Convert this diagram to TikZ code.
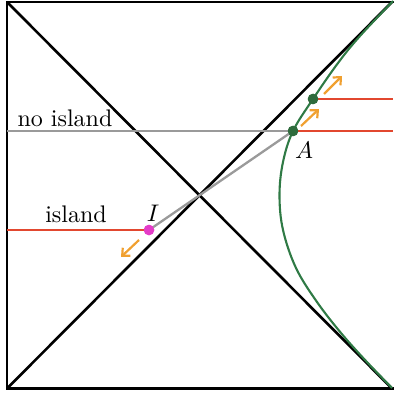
\documentclass[tikz,border=0pt]{standalone}
\usetikzlibrary{arrows.meta}
\definecolor{dgreen}{HTML}{2E6B3C}
\definecolor{cgreen}{HTML}{2F7A45}
\definecolor{ored}{HTML}{E2472F}
\definecolor{oorange}{HTML}{F0A030}
\definecolor{mag}{HTML}{E43CC8}
\definecolor{lgray}{HTML}{9A9A9A}
\tikzset{
  frame/.style={line width=2.6pt, black},
  grayline/.style={line width=2.3pt, lgray},
  redline/.style={line width=2.4pt, ored},
  curveline/.style={line width=2.1pt, cgreen},
  gdot/.style={circle, fill=dgreen, inner sep=0pt, minimum size=10.5pt},
  mdot/.style={circle, fill=mag, inner sep=0pt, minimum size=10.5pt},
  oarrow/.style={line width=2.2pt, oorange, -{Straight Barb[length=6pt,width=11pt]}},
  lbl/.style={scale=2.4, inner sep=0pt}
}
\begin{document}
\begin{tikzpicture}[x=1pt,y=-1pt]
\useasboundingbox (0,0) rectangle (393,395);
% frame corners
\coordinate (TL) at (7,2);
\coordinate (TR) at (394,2);
\coordinate (BL) at (7,388.5);
\coordinate (BR) at (394,388.5);
\coordinate (TRc) at (392,2);
\coordinate (BRc) at (392,388.5);
\draw[frame] (TR) -- (TL) -- (BL) -- (BR);
\draw[frame] (TL) -- (BRc);
\draw[frame] (BL) -- (TRc);
% green curve
\draw[curveline] plot[smooth, tension=0.6] coordinates {(393,1) (360,36) (338,63) (313,99) (293,131) (283,162) (279.5,195) (283,230) (296,268) (317,302) (341,333) (366,361) (392,388)};
% points
\node[gdot] (A) at (293,131) {};
\node[gdot] (B) at (313,99) {};
\node[mdot] (I) at (149,230) {};
\coordinate (L1) at (7,131);
\coordinate (L2) at (7,230);
\coordinate (R1) at (393,131);
\coordinate (R2) at (393,99);
% lines
\draw[grayline] (L1) -- (A.center);
\draw[grayline] (I.center) -- (A.center);
\draw[redline] (L2) -- (I.center);
\draw[redline] (A.center) -- (R1);
\draw[redline] (B.center) -- (R2);
\node[gdot] at (A) {};
\node[gdot] at (B) {};
\node[mdot] at (I) {};
% arrows
\coordinate (a1s) at (139,240);
\coordinate (a1e) at (121,257);
\coordinate (a2s) at (301,126);
\coordinate (a2e) at (319,109);
\coordinate (a3s) at (324,94);
\coordinate (a3e) at (342,76);
\draw[oarrow] (a1s) -- (a1e);
\draw[oarrow] (a2s) -- (a2e);
\draw[oarrow] (a3s) -- (a3e);
% labels
\node[lbl] (tno) at (65,118) {no island};
\node[lbl] (tis) at (76,214) {island};
\node[lbl] (tI) at (153,213) {$I$};
\node[lbl] (tA) at (304,150) {$A$};
\end{tikzpicture}
\end{document}
